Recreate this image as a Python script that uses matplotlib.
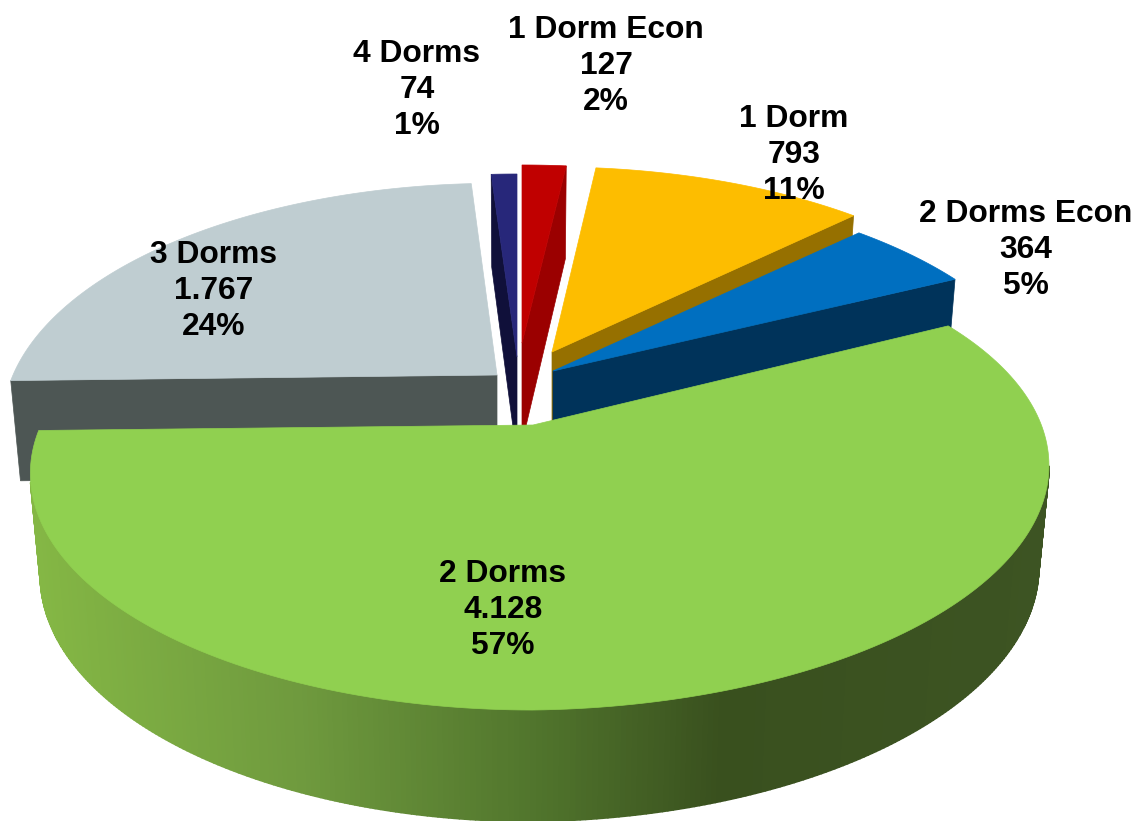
import numpy as np
import matplotlib
matplotlib.use("Agg")
import matplotlib.pyplot as plt
from matplotlib.collections import PolyCollection
from matplotlib.patches import Polygon

plt.rcParams['font.family'] = ['Liberation Sans', 'DejaVu Sans']

CATEGORIES = ["1 Dorm Econ", "1 Dorm", "2 Dorms Econ", "2 Dorms", "3 Dorms", "4 Dorms"]
VALUES = [127, 793, 364, 4128, 1767, 74]

TOP_COLORS = ["#c00000", "#fdbd00", "#006fc0", "#90d050", "#bfcdd1", "#27277a"]
WALL_COLORS = ["#9b0000", "#967000", "#00335a", "#3c5422", "#4d5654", "#10103a"]

# apex x, apex y, half width left, half width right, half height, tilt
SLICE_GEOM = [
    (522, 343, 485, 485, 214.5, 0),
    (552, 352, 485, 482, 223, 0),
    (553, 371, 485, 489, 226, 0),
    (533, 425, 492, 505, 226.6, -8),
    (497, 375, 484, 485, 231, 0),
    (517, 357, 485, 485, 220.5, 0),
]
LABEL_POS = [(606, 66), (417, 90), (794, 155), (1026, 250), (214, 291), (503, 610)]
LABEL_ORDER = [0, 5, 1, 2, 4, 3]

K = 0.205
DEPTH = 100
GRAD_X = [30, 300, 540, 720, 1050]
GRAD_R = [0x85, 0x6f, 0x50, 0x39, 0x3d]
GRAD_G = [0xb8, 0x9a, 0x74, 0x50, 0x54]
GRAD_B = [0x45, 0x3e, 0x2c, 0x1e, 0x23]


def rim(theta, geom, bottom=False):
    ax_, ay, a_l, a_r, b, tilt = geom
    theta = np.asarray(theta, dtype=float)
    x_u = np.sin(theta)
    y_u = np.cos(theta)
    w = 1 + K * y_u
    a = np.where(x_u < 0, a_l, a_r)
    dx = a * x_u / w
    dy = -b * y_u / w + tilt * np.maximum(x_u, 0)
    if bottom:
        return ax_ + 0.98 * dx, ay + DEPTH + 1.04 * dy
    return ax_ + dx, ay + dy


def wall(ax, theta, geom, color, z):
    x0, y0 = rim(theta, geom)
    x1, y1 = rim(theta, geom, bottom=True)
    pts = [(geom[0], geom[1]), (x0, y0), (x1, y1), (geom[0], geom[1] + DEPTH)]
    ax.add_patch(Polygon(pts, closed=True, facecolor=color, edgecolor=color, lw=0.5, zorder=z))


def face(ax, t0, t1, geom, color, z):
    ts = np.linspace(t0, t1, 200)
    x, y = rim(ts, geom)
    pts = [(geom[0], geom[1])] + list(zip(x, y))
    ax.add_patch(Polygon(pts, closed=True, facecolor=color, edgecolor=color, lw=0.5, zorder=z))


fig = plt.figure(figsize=(11.38, 8.21), dpi=100)
ax = fig.add_axes([0, 0, 1, 1])
ax.set_xlim(0, 1138)
ax.set_ylim(821, 0)
ax.axis("off")

edges = np.concatenate(([0], np.cumsum(VALUES))) / sum(VALUES) * 2 * np.pi

# back to front: gray, navy, red, yellow, blue, green
wall(ax, edges[4], SLICE_GEOM[4], WALL_COLORS[4], 1)
face(ax, edges[4], edges[5], SLICE_GEOM[4], TOP_COLORS[4], 2)

wall(ax, edges[5], SLICE_GEOM[5], WALL_COLORS[5], 3)
face(ax, edges[5], edges[6], SLICE_GEOM[5], TOP_COLORS[5], 4)

wall(ax, edges[1], SLICE_GEOM[0], WALL_COLORS[0], 3)
face(ax, edges[0], edges[1], SLICE_GEOM[0], TOP_COLORS[0], 4)

wall(ax, edges[2], SLICE_GEOM[1], WALL_COLORS[1], 5)
face(ax, edges[1], edges[2], SLICE_GEOM[1], TOP_COLORS[1], 6)

wall(ax, edges[3], SLICE_GEOM[2], WALL_COLORS[2], 7)
face(ax, edges[2], edges[3], SLICE_GEOM[2], TOP_COLORS[2], 8)

# green outer side, banded like the original gradient
# only the part that shows below the top face
ts = np.linspace(np.radians(102), np.radians(256), 300)
tx, ty = rim(ts, SLICE_GEOM[3])
bx, by = rim(ts, SLICE_GEOM[3], bottom=True)
quads = []
cols = []
for i in range(len(ts) - 1):
    quads.append([(tx[i], ty[i]), (tx[i + 1], ty[i + 1]), (bx[i + 1], by[i + 1]), (bx[i], by[i])])
    mid = (tx[i] + tx[i + 1] + bx[i] + bx[i + 1]) / 4
    cols.append((np.interp(mid, GRAD_X, GRAD_R) / 255,
                 np.interp(mid, GRAD_X, GRAD_G) / 255,
                 np.interp(mid, GRAD_X, GRAD_B) / 255))
ax.add_collection(PolyCollection(quads, facecolors=cols, edgecolors=cols, linewidths=1.3, zorder=9))
face(ax, edges[3], edges[4], SLICE_GEOM[3], TOP_COLORS[3], 10)

total = sum(VALUES)
for (lx, ly), idx in zip(LABEL_POS, LABEL_ORDER):
    val = f"{VALUES[idx]:,}".replace(",", ".")
    pct = round(VALUES[idx] / total * 100)
    ax.text(lx, ly, f"{CATEGORIES[idx]}\n{val}\n{pct}%", ha="center", va="center",
            fontsize=22.9, fontweight="bold", color="black", linespacing=1.28, zorder=20)

fig.savefig("out.png", dpi=100)
